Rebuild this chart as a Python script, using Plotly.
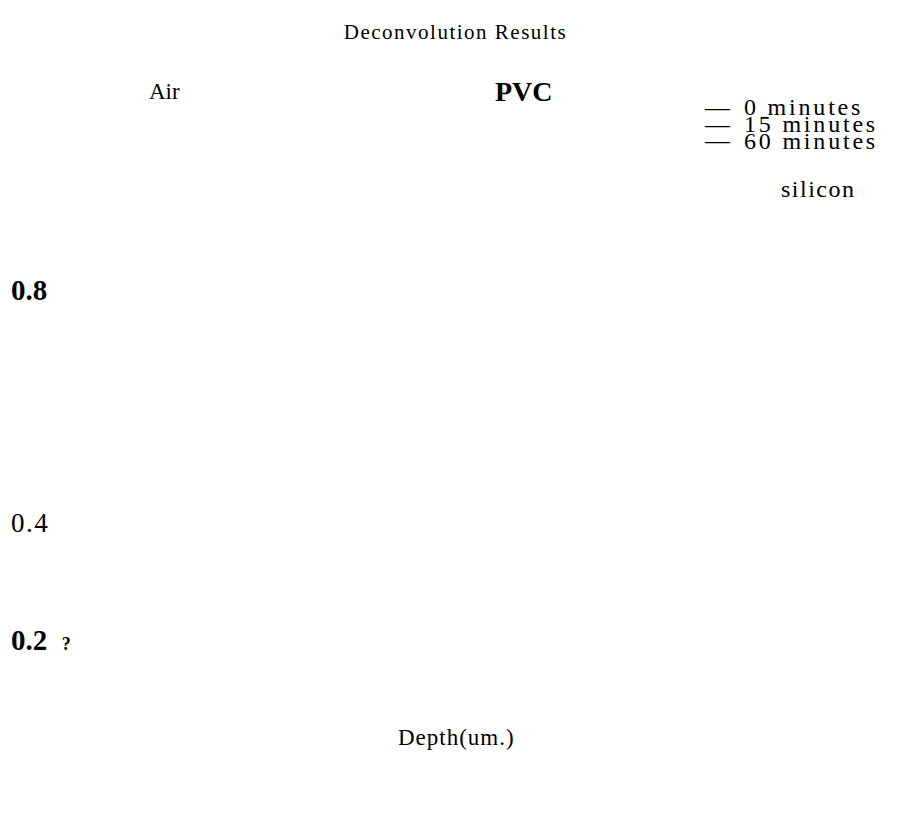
import plotly.graph_objects as go

W, H = 911, 829

# ---- chart content ----
title_text = "Deconvolution Results"
x_title = "Depth(um.)"
series_names = ["0 minutes", "15 minutes", "60 minutes"]
region_labels = ["Air", "PVC", "silicon"]
region_bold = [False, True, False]
y_tick_vals = [0.8, 0.4, 0.2]
y_tick_text = ["0.8", "0.4", "0.2"]
y_tick_bold = [True, False, True]
y_tick_marks = ["", "", "?"]

# y-axis range chosen so ticks fall where the reference shows them
Y_MAX, Y_MIN = 1.2842, -0.1390

FONT = "Liberation Serif, Times New Roman, serif"


def px(x):
    return x / W


def py(y):
    return 1 - y / H


fig = go.Figure()
# empty series traces (no lines visible in the reference)
for name in series_names:
    fig.add_trace(go.Scatter(x=[], y=[], mode="lines", name=name,
                             line=dict(color="black", width=1), showlegend=False))

ann = []
# region labels
region_pos = [(156, 84), (516, 84), (810, 181)]
region_size = [23, 28, 24]
region_spacing = [0, 0, 1.5]
for lab, b, (x, y), sz, sp in zip(region_labels, region_bold, region_pos, region_size, region_spacing):
    t = f"<b>{lab}</b>" if b else lab
    if sp:
        t = f"<span style='letter-spacing:{sp}px'>{t}</span>"
    ann.append(dict(text=t, x=px(x), y=py(y), xref="paper", yref="paper",
                    xanchor="center", yanchor="middle", showarrow=False,
                    font=dict(family=FONT, size=sz, color="black")))

# legend as text rows: dash glyph + label
leg_y = [99, 116, 133]
for name, y in zip(series_names, leg_y):
    ann.append(dict(text="—", x=px(694), y=py(y),
                    xref="paper", yref="paper", xanchor="left", yanchor="middle", showarrow=False,
                    font=dict(family=FONT, size=25, color="black")))
    ann.append(dict(text=f"<span style='letter-spacing:2.8px'>{name}</span>", x=px(734), y=py(y),
                    xref="paper", yref="paper", xanchor="left", yanchor="middle", showarrow=False,
                    font=dict(family=FONT, size=24, color="black")))

# y tick labels (left aligned)
for v, t, b, m in zip(y_tick_vals, y_tick_text, y_tick_bold, y_tick_marks):
    if b:
        s = f"<b>{t}</b>"
        sz = 29
    else:
        s = f"<span style='letter-spacing:1.5px'>{t}</span>"
        sz = 27
    if m:
        s += f"  <b><span style='font-size:18px'>{m}</span></b>"
    ann.append(dict(text=s, x=px(1), y=v, xref="paper", yref="y", xanchor="left", yanchor="middle",
                    showarrow=False, font=dict(family=FONT, size=sz, color="black")))

# x axis title
ann.append(dict(text=f"<span style='letter-spacing:1px'>{x_title}</span>", x=px(448), y=py(729),
                xref="paper", yref="paper", xanchor="center", yanchor="middle", showarrow=False,
                font=dict(family=FONT, size=23, color="black")))

fig.update_layout(
    width=W, height=H,
    margin=dict(l=0, r=0, t=0, b=0),
    paper_bgcolor="white", plot_bgcolor="white",
    title=dict(text=f"<span style='letter-spacing:1.5px'>{title_text}</span>", x=px(447.5), xanchor="center",
               y=py(24), yanchor="middle", yref="container",
               font=dict(family=FONT, size=21, color="black")),
    xaxis=dict(visible=False, range=[0, 1]),
    yaxis=dict(visible=False, range=[Y_MIN, Y_MAX]),
    annotations=ann,
    showlegend=False,
)

fig.write_html("out.html")
